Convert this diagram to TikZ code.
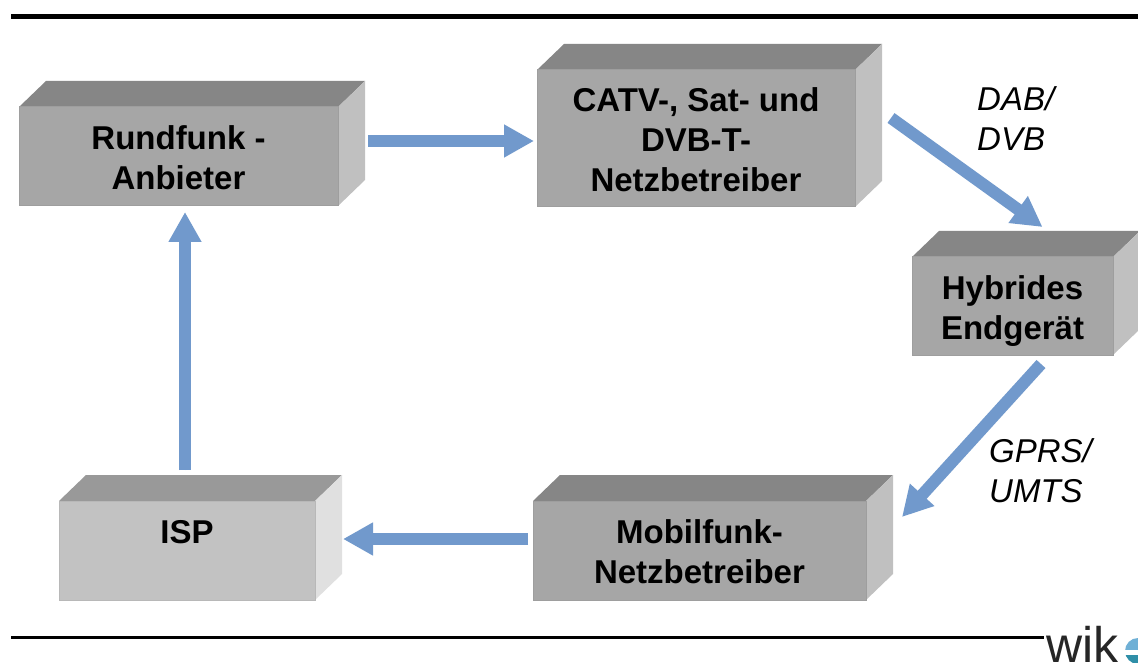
\documentclass[tikz,border=0pt]{standalone}
\usepackage{fontspec}
\setmainfont{Liberation Sans}
\usetikzlibrary{arrows.meta,calc}
\definecolor{frontA}{HTML}{A6A6A6}
\definecolor{topA}{HTML}{868686}
\definecolor{sideA}{HTML}{C0C0C0}
\definecolor{frontB}{HTML}{C2C2C2}
\definecolor{topB}{HTML}{999999}
\definecolor{sideB}{HTML}{E0E0E0}
\definecolor{flowblue}{HTML}{7199CC}
\definecolor{logolight}{HTML}{6FB0D6}
\definecolor{logodark}{HTML}{2F8FA8}
\tikzset{
  x=1pt,y=-1pt,
  boxface/.style={rectangle,inner sep=0pt,outer sep=0pt,draw=#1!95!black,line width=1pt,fill=#1},
  boxlabel/.style={font=\fontsize{33}{40}\selectfont\bfseries,align=center,inner sep=0pt,text=black},
  flow/.style={draw=flowblue,line width=12pt,-{Triangle[length=30pt,width=31pt]},fill=flowblue},
  tag/.style={font=\fontsize{33}{40}\selectfont\itshape,align=left,anchor=north west,inner sep=0pt,text=black},
  rulerline/.style={draw=black,line cap=butt},
}
% #1 name, #2 left, #3 top, #4 right, #5 bottom, #6 front, #7 top colour, #8 side
\newcommand{\blockbox}[8]{%
  \fill[#7] (#2,#3) -- (#2+27,#3-26) -- (#4+27,#3-26) -- (#4,#3) -- cycle;
  \fill[#8] (#4,#3) -- (#4+27,#3-26) -- (#4+27,#5-26) -- (#4,#5) -- cycle;
  \node[boxface=#6,minimum width=#4pt-#2pt,minimum height=#5pt-#3pt,anchor=north west] (#1) at (#2,#3) {};
}
\begin{document}
\begin{tikzpicture}
\useasboundingbox (0,0) rectangle (1138,663);
\clip (0,0) rectangle (1138,663);
\fill[white] (0,0) rectangle (1138,663);
\coordinate (topL) at (11,17);
\coordinate (topR) at (1138,17);
\coordinate (botL) at (11,637);
\coordinate (botR) at (1044,637);
\draw[rulerline,line width=5pt] (topL) -- (topR);
\draw[rulerline,line width=3pt] (botL) -- (botR);
\blockbox{rund}{19}{107}{338}{206}{frontA}{topA}{sideA}
\blockbox{catv}{537}{70}{855}{207}{frontA}{topA}{sideA}
\blockbox{hyb}{912}{257}{1113}{355}{frontA}{topA}{sideA}
\blockbox{mob}{533}{501}{866}{600}{frontA}{topA}{sideA}
\blockbox{isp}{59}{501}{315}{600}{frontB}{topB}{sideB}
\node[boxlabel] (rundt) at ($(rund.center)+(0,1)$) {Rundfunk -\\Anbieter};
\node[boxlabel] (catvt) at ($(catv.center)+(0,1)$) {CATV-, Sat- und\\DVB-T-\\Netzbetreiber};
\node[boxlabel] (hybt) at ($(hyb.center)+(0,5.5)$) {Hybrides\\Endgerät};
\node[boxlabel] (mobt) at ($(mob.center)+(0,1)$) {Mobilfunk-\\Netzbetreiber};
\node[boxlabel] (ispt) at ($(isp.center)+(0,-18)$) {ISP};
\coordinate (a1) at ($(rund.east)+(30,-15.5)$);
\coordinate (b1) at ($(catv.west)+(-3,2.5)$);
\draw[flow] (a1) -- (b1);
\coordinate (a2) at ($(catv.north east)+(36,48)$);
\coordinate (b2) at ($(hyb.north)+(30,-30)$);
\draw[flow] (a2) -- (b2);
\coordinate (a3) at ($(hyb.south east)+(-72,9)$);
\coordinate (b3) at ($(mob.north east)+(36,16)$);
\draw[flow] (a3) -- (b3);
\coordinate (a4) at ($(mob.west)+(-5,-11.5)$);
\coordinate (b4) at ($(isp.east)+(28,-11.5)$);
\draw[flow] (a4) -- (b4);
\coordinate (a5) at ($(isp.north)+(-2,-31)$);
\coordinate (b5) at ($(rund.south)+(6.5,6)$);
\draw[flow] (a5) -- (b5);
\node[tag] (dab) at (977,86) {DAB/\\DVB};
\node[tag] (gprs) at (989,438) {GPRS/\\UMTS};
\node[font=\fontsize{50}{50}\selectfont,text=black!85,anchor=base west,inner sep=0pt] (wik) at (1046,662) {wik};
\begin{scope}
\clip (1138,651) circle (13);
\fill[logolight] (1125,638) rectangle (1138,650);
\fill[logodark] (1125,655) rectangle (1138,664);
\end{scope}
\end{tikzpicture}
\end{document}
